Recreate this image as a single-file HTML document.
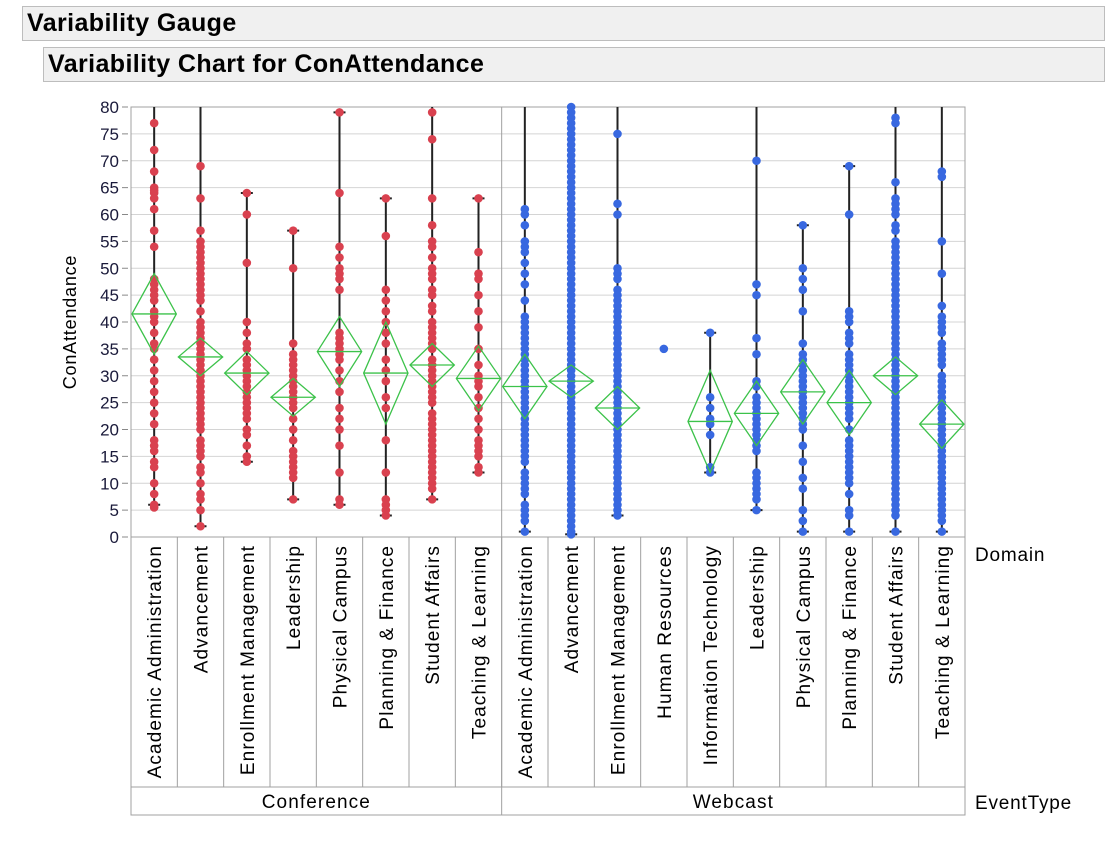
<!DOCTYPE html>
<html><head><meta charset="utf-8"><style>
body{margin:0;background:#fff;width:1110px;height:846px;overflow:hidden;font-family:"Liberation Sans",sans-serif}
.bar{position:absolute;background:#f0f0f0;border:1px solid #bdbdbd;font-weight:bold;font-size:25px;color:#000;box-sizing:border-box;padding-left:4px;line-height:32px;letter-spacing:0.4px}
</style></head><body>
<div class="bar" style="left:22px;top:6px;width:1083px;height:35px">Variability Gauge</div>
<div class="bar" style="left:43px;top:47px;width:1062px;height:35px">Variability Chart for ConAttendance</div>
<svg id="chart" width="1110" height="846" style="position:absolute;left:0;top:0"></svg>
<script>
const domains=["Academic Administration","Advancement","Enrollment Management","Leadership","Physical Campus","Planning & Finance","Student Affairs","Teaching & Learning","Academic Administration","Advancement","Enrollment Management","Human Resources","Information Technology","Leadership","Physical Campus","Planning & Finance","Student Affairs","Teaching & Learning"];
const eventTypes=["Conference","Webcast"];
const groupSizes=[8,10];
const yTicks=[0,5,10,15,20,25,30,35,40,45,50,55,60,65,70,75,80];
const mins=[6,2,14,7,6,4,7,12,1,0.5,4,35,12,5,1,1,1,1];
const maxs=[80,80,64,57,79,63,80,63,80,80,80,35,38,80,58,69,80,80];
const means=[41.5,33.5,30.5,26,34.5,30.5,32,29.5,28,29,24,null,21.5,23,27,25,30,21];
const ciHalf=[7.5,3.5,4,3.5,6.5,9.5,4,6,6,3,4,null,9.5,6,6,6,3.5,4.5];
const points=[
[77,72,68,65,64.5,64,63,61,57,54,48,47,46,45,44,42,41,40,38,36,35,33,31,29,27,25,23,21,18,17,16,14,13,10,8,6,5.5],
[69,63,57,55,54,53,52,51,50,49,48,47,46,45,44,42,40,39,38,37,36,35,34,33,32,31,30,29,28,27,26,25,24,23,22,21,20,18,17,16,15,13,12,10,8,7,5,2],
[64,60,51,40,38,36,35,33,32,31,30,29,28,27,26,25,24,23,22,20,19,17,15,14],
[57,50,36,34,33,32,31,30,29,28,27,26,25,24,22,20,18,16,15,14,13,12,11,7],
[79,64,54,52,50,49,48,46,38,37,36,35,34,33,31,29,27,24,22,20,17,12,7,6],
[63,56,46,44,42,40,38,36,33,31,29,26,24,18,12,7,6,5,4],
[79,74,63,58,55,54,52,50,49,48,46,45,43,42,40,39,38,37,36,35,33,32,31,30,29,28,27,26,25,23,22,21,20,19,18,17,16,15,14,13,12,11,10,9,7],
[63,53,49,48,45,42,39,35,32,30,29,28,26,24,22,20,18,17,16,15,13,12],
[61,60,58,55,54,53,51,49,47,44,41,40,39,38,37,36,35,34,33,32,31,30,29,28,27,26,25,24,23,22,21,20,19,18,17,16,15,14,12,11,10,9,8,6,5,4,3,1],
[80,79,78,77,76,75,74,73,72,71,70,69,68,67,66,65,64,63,62,61,60,59,58,57,56,55,54,53,52,51,50,49,48,47,46,45,44,43,42,41,40,39,38,37,36,35,34,33,32,31,30,29,28,27,26,25,24,23,22,21,20,19,18,17,16,15,14,13,12,11,10,9,8,7,6,5,4,3,2,1,0.5],
[75,62,60,50,49,48,46,45,44,43,42,41,40,39,38,37,36,35,34,33,32,31,30,29,28,27,26,25,24,23,22,21,20,19,18,17,16,15,14,13,12,11,10,9,8,7,6,5,4],
[35],
[38,26,24,22,21,19,13,12],
[70,47,45,37,34,29,28,26,25,24,23,22,21,20,19,18,17,16,12,11,10,9,8,7,5],
[58,50,48,46,42,36,34,33,32,31,30,29,28,27,26,25,24,23,22,21,20,17,14,11,9,5,3,1],
[69,60,42,41,40,38,37,36,34,33,32,31,30,29,28,27,26,25,24,23,22,20,18,17,16,15,14,13,12,11,10,8,5,4,1],
[78,77,66,63,62,61,60,58,57,55,54,53,52,51,50,49,48,47,46,45,44,43,42,41,40,39,38,37,36,35,34,33,32,31,30,29,28,27,26,25,24,23,22,21,20,19,18,17,16,15,14,13,12,11,10,9,8,7,6,5,4,1],
[68,67,55,49,43,41,40,39,38,36,35,34,33,32,30,29,28,27,26,25,24,23,22,21,20,19,18,17,16,15,14,13,12,11,10,9,8,7,6,5,4,3,1]
];
const NS="http://www.w3.org/2000/svg";
const svg=document.getElementById('chart');
const L=131,R=965,T=107,B=537,LB=787,EB=815;
const cw=(R-L)/domains.length;
const y=v=>B-(v/80)*(B-T);
const xc=i=>L+cw*(i+0.5);
function mk(tag,attrs,parent){const e=document.createElementNS(NS,tag);for(const k in attrs)e.setAttribute(k,attrs[k]);(parent||svg).appendChild(e);return e;}
yTicks.forEach(t=>{
  const g=mk('line',{x1:L,x2:R,y1:y(t),y2:y(t),stroke:'#d4d4d4','stroke-width':1});
  
  
  const tk=mk('line',{x1:L-9,x2:L-3,y1:y(t),y2:y(t),stroke:'#888','stroke-width':1});
  
  
  const lb=mk('text',{x:L-12,y:y(t)+6,'text-anchor':'end','font-size':17,fill:'#1a1a3a'});
  lb.textContent=t;
  
  
});
const fr=mk('rect',{x:L,y:T,width:R-L,height:B-T,fill:'none',stroke:'#a0a0a0','stroke-width':1});


const divX=L+cw*groupSizes[0];
const dv=mk('line',{x1:divX,x2:divX,y1:T,y2:EB,stroke:'#a0a0a0'});


mk('rect',{x:L,y:B,width:R-L,height:EB-B,fill:'none',stroke:'#a0a0a0'});
mk('line',{x1:L,x2:R,y1:LB,y2:LB,stroke:'#a0a0a0'});
domains.forEach((d,i)=>{
  if(i>0){mk('line',{x1:L+cw*i,x2:L+cw*i,y1:B,y2:LB,stroke:'#a0a0a0'});}
  const tx=mk('text',{transform:`translate(${xc(i)+7},${B+8}) rotate(-90)`,'text-anchor':'end','font-size':19,'letter-spacing':1.1,fill:'#000'});
  tx.textContent=d;
  
  
});
let s=0;
eventTypes.forEach((e,g)=>{
  const tx=mk('text',{x:L+cw*(s+groupSizes[g]/2),y:LB+21,'text-anchor':'middle','font-size':19,'letter-spacing':1.1});
  tx.textContent=e;
  
  
  s+=groupSizes[g];
});
const dl=mk('text',{x:975,y:561,'font-size':19,'letter-spacing':0.8});dl.textContent='Domain';


const el=mk('text',{x:975,y:809,'font-size':19,'letter-spacing':0.8});el.textContent='EventType';


const yt=mk('text',{transform:`translate(76,322) rotate(-90)`,'text-anchor':'middle','font-size':18,'letter-spacing':0.8});yt.textContent='ConAttendance';


domains.forEach((d,i)=>{
  const col=i<groupSizes[0]?'#d9414f':'#3868e0';
  const x=xc(i);
  if(mins[i]!==maxs[i]){
    const ln=mk('line',{x1:x,x2:x,y1:y(Math.min(maxs[i],80)),y2:y(mins[i]),stroke:'#222','stroke-width':2});
    
    
    [mins[i],maxs[i]].forEach(v=>{if(v<80){const c=mk('line',{x1:x-6,x2:x+6,y1:y(v),y2:y(v),stroke:'#222','stroke-width':2});
      
      }});
  }
  points[i].forEach(v=>{
    const c=mk('circle',{cx:x,cy:y(v),r:4.3,fill:col});
    
    
  });
  if(means[i]!==null){
    const m=y(means[i]),h=ciHalf[i]/80*(B-T),w=cw/2-1;
    const dm=mk('polygon',{points:`${x-w},${m} ${x},${m-h} ${x+w},${m} ${x},${m+h}`,fill:'none',stroke:'#3cc24a','stroke-width':1.3});
    
    
    const ml=mk('line',{x1:x-w,x2:x+w,y1:m,y2:m,stroke:'#3cc24a','stroke-width':1.3});
    
    
  }
});
</script>
</body></html>
